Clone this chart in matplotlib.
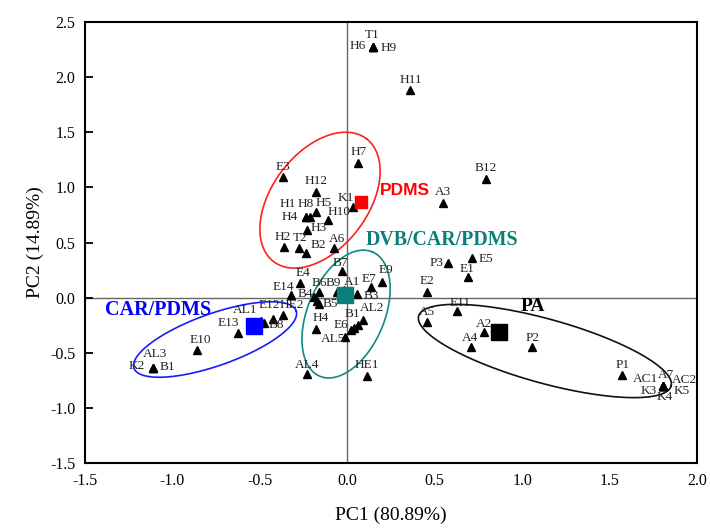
import numpy as np
import matplotlib
matplotlib.use("Agg")
from matplotlib import pyplot as plt

# Sample scores (PC1, PC2)
names = ["T1", "H6", "H9", "H11", "H7", "E3", "H12", "K1", "H1", "H4",
         "H8", "H5", "H10", "H3", "H2", "T2", "B2", "A6", "A3", "B12",
         "P3", "E5", "E1", "E2", "E11", "A5", "A2", "A4", "P2", "P1",
         "A7", "AC1", "AC2", "K3", "K4", "K5",
         "B7", "E4", "E9", "E7", "E14", "B6", "B9", "A1", "B3", "B4", "B5", "",
         "H4", "AL5", "AL2", "B1", "E6", "", "HE1", "AL4",
         "AL1", "B8", "E12", "HE2", "E13", "E10", "K2", "B1", "AL3"]
pc1 = [0.145, 0.145, 0.145, 0.358, 0.063, -0.366, -0.179, 0.034, -0.236, -0.236,
       -0.213, -0.179, -0.109, -0.232, -0.362, -0.276, -0.236, -0.074, 0.545, 0.793,
       0.574, 0.711, 0.688, 0.454, 0.629, 0.457, 0.783, 0.707, 1.054, 1.569,
       1.807, 1.807, 1.807, 1.807, 1.807, 1.807,
       -0.030, -0.270, 0.198, 0.137, -0.324, -0.160, -0.061, -0.019, 0.054, -0.189, -0.162, -0.175,
       -0.179, -0.013, 0.088, 0.063, 0.038, 0.019, 0.110, -0.232,
       -0.494, -0.476, -0.427, -0.369, -0.623, -0.858, -1.113, -1.113, -1.113]
pc2 = [2.276, 2.276, 2.276, 1.883, 1.218, 1.097, 0.955, 0.825, 0.728, 0.728,
       0.734, 0.774, 0.704, 0.613, 0.456, 0.447, 0.402, 0.453, 0.861, 1.075,
       0.317, 0.356, 0.184, 0.048, -0.122, -0.219, -0.315, -0.445, -0.445, -0.702,
       -0.799, -0.799, -0.799, -0.799, -0.799, -0.799,
       0.244, 0.135, 0.144, 0.099, 0.024, 0.054, 0.054, 0.069, 0.033, 0.008, -0.058, -0.028,
       -0.288, -0.355, -0.203, -0.249, -0.279, -0.294, -0.711, -0.696,
       -0.211, -0.233, -0.197, -0.158, -0.324, -0.475, -0.641, -0.641, -0.641]

# Fibre centroids
fibres = ["PDMS", "DVB/CAR/PDMS", "CAR/PDMS", "PA"]
fibre_pc1 = [0.077, -0.013, -0.534, 0.867]
fibre_pc2 = [0.870, 0.024, -0.255, -0.309]

# Label offsets in pixels (dx, dy up)
label_off = [(0, 12), (-15, 1), (16, -1), (1, 10), (0, 11), (0, 10), (0, 11), (-7, 9), (-18, 13), (-16, 0),
             (-4, 13), (8, 9), (11, 8), (12, 2), (-1, 10), (1, 10), (12, 8), (3, 9), (0, 11), (0, 11),
             (-11, 0), (14, -1), (-1, 8), (0, 11), (3, 8), (0, 10), (0, 8), (-1, 9), (1, 9), (1, 10),
             (3, 11), (-18, 7), (21, 6), (-15, -5), (1, -11), (18, -5),
             (-2, 8), (3, 10), (4, 12), (-2, 8), (-7, 8), (0, 9), (-3, 9), (8, 8), (15, -2), (-9, 3), (11, 0), (0, 0),
             (5, 11), (-12, -2), (9, 12), (-6, 11), (-13, 3), (0, 0), (0, 11), (0, 9),
             (-16, 11), (12, -2), (-3, 14), (9, 10), (-10, 10), (3, 10), (-16, 2), (15, 1), (2, 14)]

# Ellipses: centre (data), semi-axes (px), angle (deg), colour
ellipses = [((-0.156, 0.884), 77, 48, 53, "#ff2020"),
            ((-0.007, -0.149), 67.5, 38.4, 67, "#0f8a85"),
            ((-0.756, -0.380), 86, 26, 19.5, "#1a1aff"),
            ((1.130, -0.484), 131, 32, -15.5, "#111111")]

fibre_colors = ["#ff0000", "#0b7f7a", "#0000ff", "#000000"]
fibre_ms = [9, 11.5, 11, 11.5]

plt.rcParams["font.family"] = ["Liberation Serif", "DejaVu Serif"]

fig = plt.figure(figsize=(7.10, 5.29), dpi=100)
ax = fig.add_axes([85 / 710, 1 - 463 / 529, 612 / 710, 441 / 529])
ax.set_xlim(-1.5, 2.0)
ax.set_ylim(-1.5, 2.5)

ax.axhline(0, color="#666666", lw=1.0, zorder=1)
ax.axvline(0, color="#666666", lw=1.0, zorder=1)

# pixel scale of the data axes
px_x = 612 / 3.5
px_y = 441 / 4.0
t = np.linspace(0, 2 * np.pi, 300)
for (cx, cy), a, b, ang, col in ellipses:
    th = np.radians(ang)
    ex = a * np.cos(t) * np.cos(th) - b * np.sin(t) * np.sin(th)
    ey = a * np.cos(t) * np.sin(th) + b * np.sin(t) * np.cos(th)
    ax.plot(cx + ex / px_x, cy + ey / px_y, color=col, lw=1.2, zorder=2)

ax.plot(pc1, pc2, linestyle="none", marker="^", ms=6, color="black", zorder=3)

for i, name in enumerate(names):
    if not name:
        continue
    dx, dy = label_off[i]
    ax.annotate(name, (pc1[i], pc2[i]), xytext=(dx, dy), textcoords="offset pixels",
                ha="center", va="center", fontsize=9.5, color="#222222", zorder=4)

for i in range(len(fibres)):
    ax.plot(fibre_pc1[i], fibre_pc2[i], linestyle="none", marker="s", ms=fibre_ms[i],
            color=fibre_colors[i], zorder=5)

ax.text(0.33, 0.975, "PDMS", color="#ff0000", fontsize=12.5, fontweight="bold",
        family=["Liberation Sans", "DejaVu Sans"], ha="center", va="center")
ax.text(0.542, 0.521, "DVB/CAR/PDMS", color="#0b7f7a", fontsize=14.3, fontweight="bold",
        ha="center", va="center")
ax.text(-1.082, -0.112, "CAR/PDMS", color="#0000ff", fontsize=14.5, fontweight="bold",
        ha="center", va="center")
ax.text(1.062, -0.085, "PA", color="black", fontsize=14, fontweight="bold",
        ha="center", va="center")

ax.set_xticks(np.arange(-1.5, 2.01, 0.5))
ax.set_yticks(np.arange(-1.5, 2.51, 0.5))
ax.set_xticklabels([f"{v:.1f}" for v in np.arange(-1.5, 2.01, 0.5)])
ax.set_yticklabels([f"{v:.1f}" for v in np.arange(-1.5, 2.51, 0.5)])
ax.tick_params(axis="both", direction="in", length=6, width=1.3, labelsize=11.5, pad=7)
ax.tick_params(axis="x", length=0)
for s in ax.spines.values():
    s.set_linewidth(1.5)

ax.set_xlabel("PC1 (80.89%)", fontsize=14, labelpad=13)
ax.set_ylabel("PC2 (14.89%)", fontsize=14, labelpad=4)

fig.savefig("out.png", dpi=100)
